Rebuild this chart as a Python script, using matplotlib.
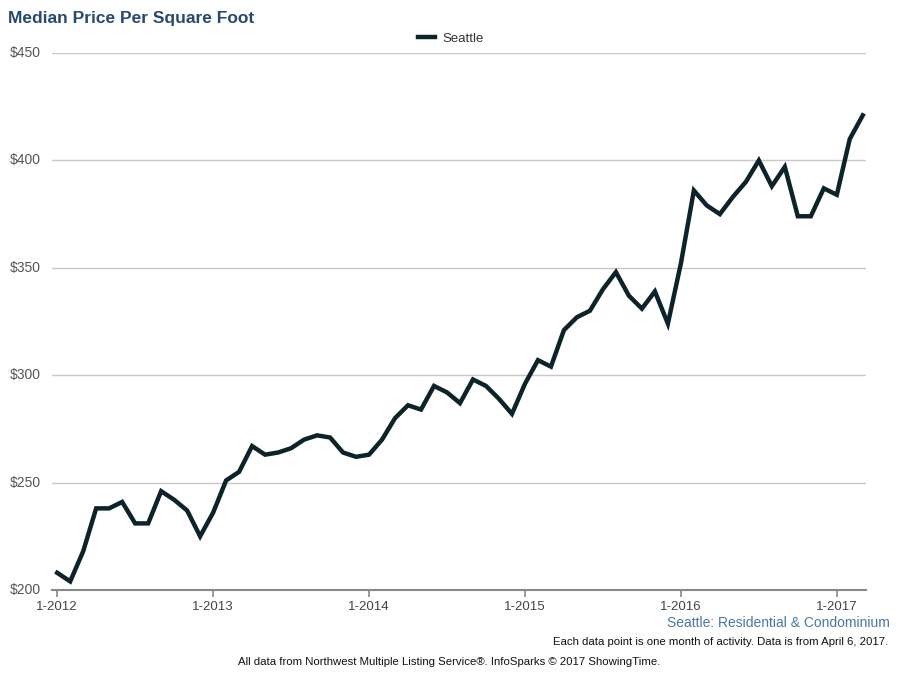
import matplotlib
matplotlib.use("Agg")
import matplotlib.pyplot as plt

plt.rcParams['font.family'] = ['Liberation Sans', 'DejaVu Sans']

values = [
    # 2012
    208, 204, 218, 238, 238, 241, 231, 231, 246, 242, 237, 225,
    # 2013
    236, 251, 255, 267, 263, 264, 266, 270, 272, 271, 264, 262,
    # 2014
    263, 270, 280, 286, 284, 295, 292, 287, 298, 295, 289, 282,
    # 2015
    296, 307, 304, 321, 327, 330, 340, 348, 337, 331, 339, 324,
    # 2016
    352, 386, 379, 375, 383, 390, 400, 388, 397, 374, 374, 387,
    # 2017
    384, 410, 421,
]
tick_labels = ["1-2012", "1-2013", "1-2014", "1-2015", "1-2016", "1-2017"]
tick_idx = [0, 12, 24, 36, 48, 60]
y_ticks = [200, 250, 300, 350, 400, 450]
series_name = "Seattle"

fig = plt.figure(figsize=(8.98, 6.79), dpi=100)
ax = fig.add_axes([0.0579, 0.1311, 0.9644 - 0.0579, 0.9219 - 0.1311])

x = list(range(len(values)))
ax.plot(x, values, color="#0c2329", lw=3.2, solid_joinstyle="miter", label=series_name, zorder=3)

ax.set_xlim(-0.4, 62.25)
ax.set_ylim(200, 450)
ax.set_yticks(y_ticks)
ax.set_yticklabels([f"${v}" for v in y_ticks])
ax.set_xticks(tick_idx)
ax.set_xticklabels(tick_labels)
ax.grid(axis="y", color="#c8c8c8", lw=1)
ax.set_axisbelow(True)
for s in ["top", "right", "left"]:
    ax.spines[s].set_visible(False)
ax.spines["bottom"].set_color("#888888")
ax.spines["bottom"].set_linewidth(1.5)
ax.tick_params(axis="y", length=0, pad=8, labelsize=10, labelcolor="#555555")
ax.tick_params(axis="x", length=5, width=1.2, color="#888888", labelsize=9.5, labelcolor="#444444", pad=3)
for lbl in ax.get_yticklabels():
    lbl.set_verticalalignment("center")

leg = ax.legend(loc="lower center", bbox_to_anchor=(0.49, 1.0), frameon=False, fontsize=9.5,
                handlelength=1.3, handletextpad=0.5, borderaxespad=0.2)
for t in leg.get_texts():
    t.set_color("#333333")

fig.text(8 / 898, 1 - 18 / 679, "Median Price Per Square Foot", fontsize=12.5, fontweight="bold",
         color="#274a6e", va="center", ha="left")
fig.text(890 / 898, 1 - 623 / 679, "Seattle: Residential & Condominium", fontsize=10,
         color="#4a77a8", ha="right", va="center")
fig.text(888 / 898, 1 - 642 / 679, "Each data point is one month of activity. Data is from April 6, 2017.",
         fontsize=8.2, color="#111111", ha="right", va="center")
fig.text(449 / 898, 1 - 662 / 679, "All data from Northwest Multiple Listing Service\u00ae. InfoSparks \u00a9 2017 ShowingTime.",
         fontsize=8.2, color="#111111", ha="center", va="center")

fig.savefig("out.png", dpi=100)
